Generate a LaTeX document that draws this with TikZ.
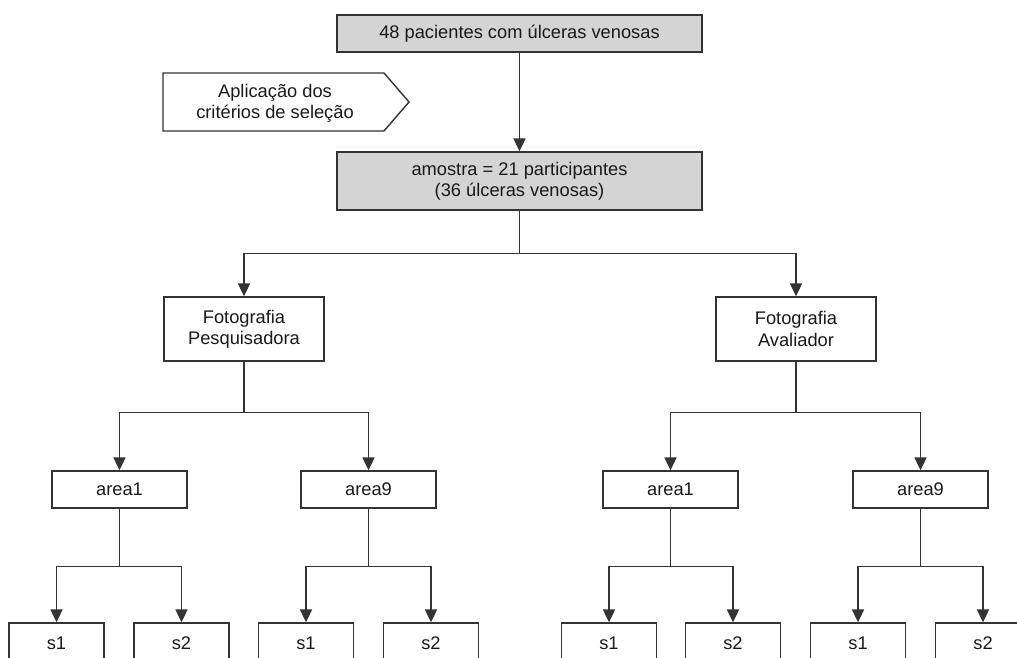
\documentclass[tikz,border=0pt]{standalone}
\usepackage{fontspec}
\setmainfont{Liberation Sans}
\usepackage{xcolor}
\usetikzlibrary{arrows.meta}
\definecolor{boxgray}{HTML}{D4D4D4}
\definecolor{linegray}{HTML}{333333}
\tikzset{
    grayblock/.style = {rectangle, draw=linegray, fill=boxgray, line width=1pt, minimum width=9.125cm, align=center, inner sep=2pt},
    fotoblock/.style = {rectangle, draw=linegray, fill=white, line width=1pt, minimum width=4cm, minimum height=1.6cm, align=center, inner sep=2pt},
    areablock/.style = {rectangle, draw=linegray, fill=white, line width=1pt, minimum width=3.375cm, minimum height=0.925cm, inner sep=2pt},
    sblock/.style = {rectangle, draw=linegray, fill=white, line width=1pt, minimum width=2.375cm, minimum height=1cm, inner sep=2pt},
    arrow/.style = {draw=linegray, line width=1pt, -{Triangle[length=0.32cm, width=0.3cm]}},
    line/.style = {draw=linegray, line width=1pt}
}
\begin{document}
\begin{tikzpicture}[x=0.025cm, y=-0.025cm, font=\fontsize{13}{15}\selectfont, text=black!90]
\useasboundingbox (0,0) rectangle (1017,657);
\clip (0,0) rectangle (1017,657);
\node (pacientes) [grayblock, minimum height=0.925cm] at (519.5,33.5) {48 pacientes com úlceras venosas};
\node (amostra) [grayblock, minimum height=1.45cm] at (519.5,181) {amostra = 21 participantes\\(36 úlceras venosas)};
\draw [line] (163,73) -- (384,73) -- (409,102) -- (384,131) -- (163,131) -- cycle;
\node (criterios) [align=center] at (275,103) {Aplicação dos\\critérios de seleção};
\node (fotoP) [fotoblock] at (244,329) {Fotografia\\Pesquisadora};
\node (fotoA) [fotoblock] at (796,329) {Fotografia\\Avaliador};
\node (areaP1) [areablock] at (119.5,489.5) {area1};
\node (areaP9) [areablock] at (368.5,489.5) {area9};
\node (areaA1) [areablock] at (670.5,489.5) {area1};
\node (areaA9) [areablock] at (920.5,489.5) {area9};
\node (s1P1) [sblock] at (56.5,643) {s1};
\node (s2P1) [sblock] at (181.5,643) {s2};
\node (s1P9) [sblock] at (306,643) {s1};
\node (s2P9) [sblock] at (431,643) {s2};
\node (s1A1) [sblock] at (609,643) {s1};
\node (s2A1) [sblock] at (733,643) {s2};
\node (s1A9) [sblock] at (858,643) {s1};
\node (s2A9) [sblock] at (983,643) {s2};

\draw [arrow] (pacientes) -- (amostra);
\draw [arrow] (amostra.south) -- ++(0,43) -| (fotoP.north);
\draw [arrow] (amostra.south) -- ++(0,43) -| (fotoA.north);
\draw [arrow] (fotoP.south) -- ++(0,51) -| (areaP1.north);
\draw [arrow] (fotoP.south) -- ++(0,51) -| (areaP9.north);
\draw [arrow] (fotoA.south) -- ++(0,51) -| (areaA1.north);
\draw [arrow] (fotoA.south) -- ++(0,51) -| (areaA9.north);
\draw [arrow] (areaP1.south) -- ++(0,58) -| (s1P1.north);
\draw [arrow] (areaP1.south) -- ++(0,58) -| (s2P1.north);
\draw [arrow] (areaP9.south) -- ++(0,58) -| (s1P9.north);
\draw [arrow] (areaP9.south) -- ++(0,58) -| (s2P9.north);
\draw [arrow] (areaA1.south) -- ++(0,58) -| (s1A1.north);
\draw [arrow] (areaA1.south) -- ++(0,58) -| (s2A1.north);
\draw [arrow] (areaA9.south) -- ++(0,58) -| (s1A9.north);
\draw [arrow] (areaA9.south) -- ++(0,58) -| (s2A9.north);
\end{tikzpicture}
\end{document}
